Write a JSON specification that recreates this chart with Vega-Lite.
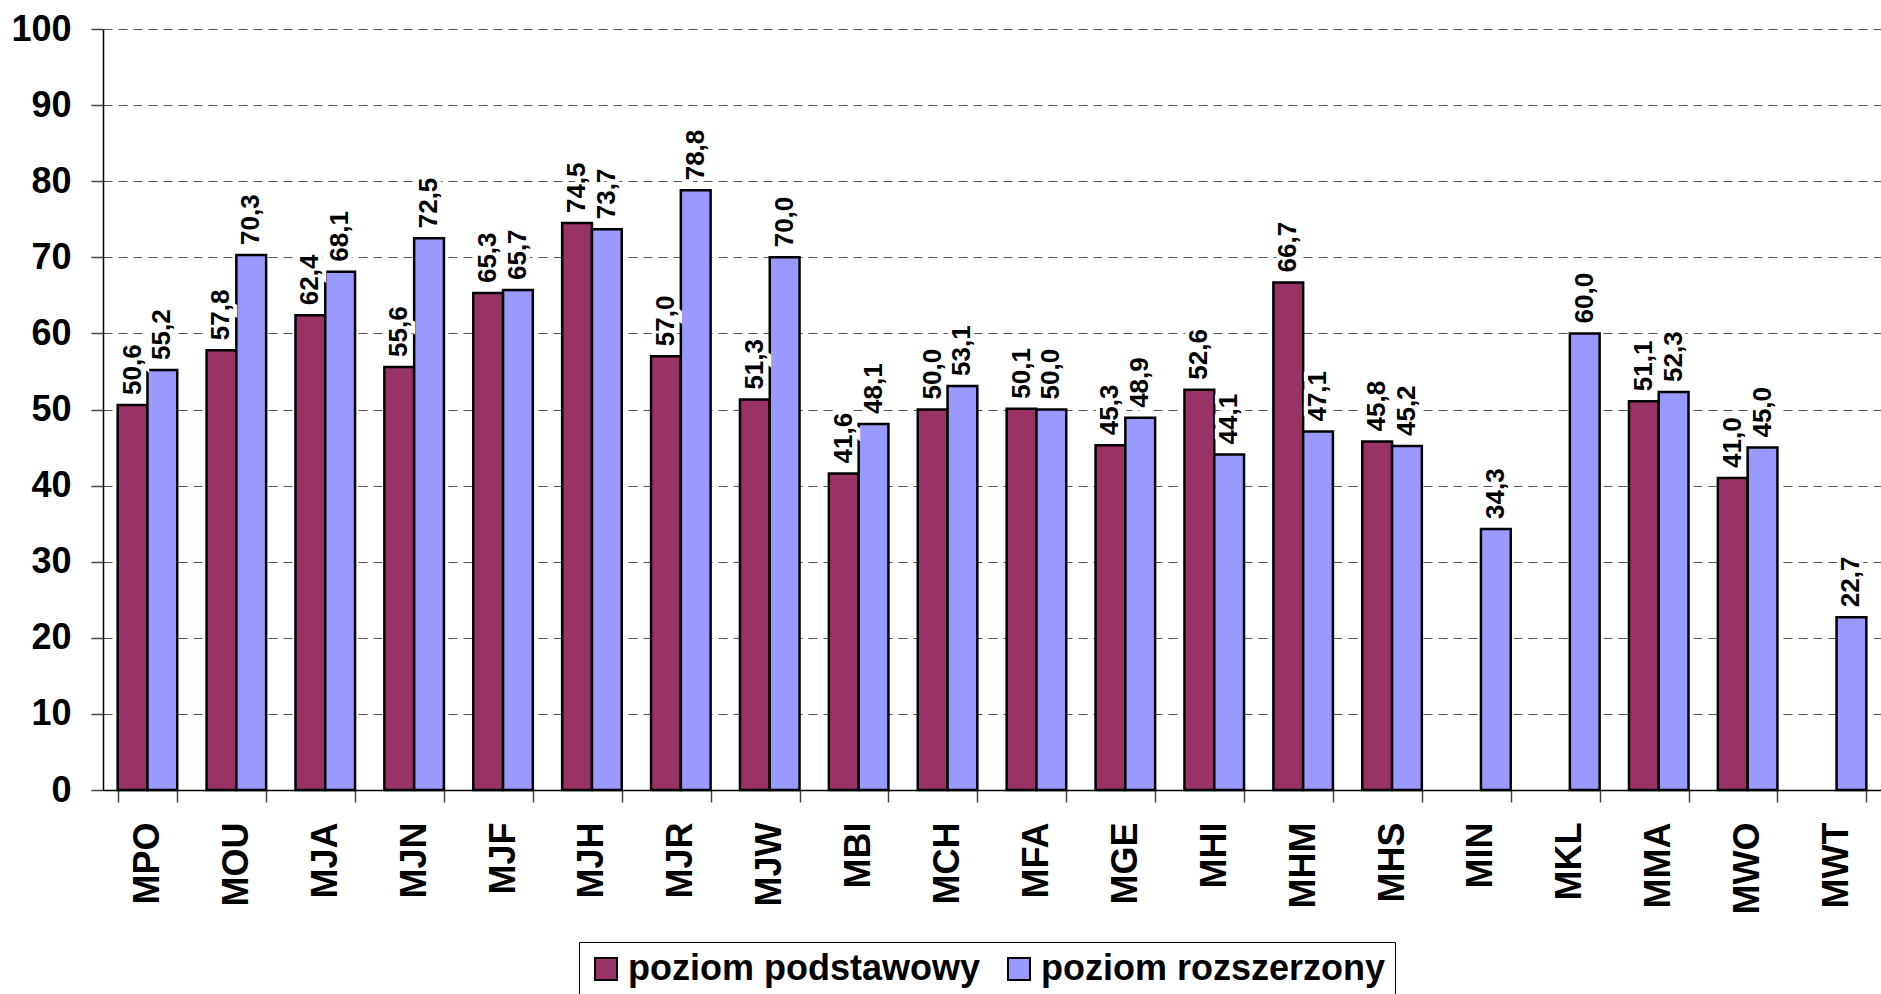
{
  "$schema": "https://vega.github.io/schema/vega-lite/v6.json",
  "width": 1778,
  "height": 761,
  "autosize": {"type": "none"},
  "padding": {"left": 103, "top": 29, "right": 0, "bottom": 204},
  "background": "white",
  "config": {
    "font": "Liberation Sans",
    "view": {"stroke": null},
    "locale": {"number": {"decimal": ",", "thousands": " ", "grouping": [3], "currency": ["", " zł"]}}
  },
  "data": {
    "values": [
      {"szkola": "MPO", "poziom": "poziom podstawowy", "wynik": 50.6},
      {"szkola": "MPO", "poziom": "poziom rozszerzony", "wynik": 55.2},
      {"szkola": "MOU", "poziom": "poziom podstawowy", "wynik": 57.8},
      {"szkola": "MOU", "poziom": "poziom rozszerzony", "wynik": 70.3},
      {"szkola": "MJA", "poziom": "poziom podstawowy", "wynik": 62.4},
      {"szkola": "MJA", "poziom": "poziom rozszerzony", "wynik": 68.1},
      {"szkola": "MJN", "poziom": "poziom podstawowy", "wynik": 55.6},
      {"szkola": "MJN", "poziom": "poziom rozszerzony", "wynik": 72.5},
      {"szkola": "MJF", "poziom": "poziom podstawowy", "wynik": 65.3},
      {"szkola": "MJF", "poziom": "poziom rozszerzony", "wynik": 65.7},
      {"szkola": "MJH", "poziom": "poziom podstawowy", "wynik": 74.5},
      {"szkola": "MJH", "poziom": "poziom rozszerzony", "wynik": 73.7},
      {"szkola": "MJR", "poziom": "poziom podstawowy", "wynik": 57.0},
      {"szkola": "MJR", "poziom": "poziom rozszerzony", "wynik": 78.8},
      {"szkola": "MJW", "poziom": "poziom podstawowy", "wynik": 51.3},
      {"szkola": "MJW", "poziom": "poziom rozszerzony", "wynik": 70.0},
      {"szkola": "MBI", "poziom": "poziom podstawowy", "wynik": 41.6},
      {"szkola": "MBI", "poziom": "poziom rozszerzony", "wynik": 48.1},
      {"szkola": "MCH", "poziom": "poziom podstawowy", "wynik": 50.0},
      {"szkola": "MCH", "poziom": "poziom rozszerzony", "wynik": 53.1},
      {"szkola": "MFA", "poziom": "poziom podstawowy", "wynik": 50.1},
      {"szkola": "MFA", "poziom": "poziom rozszerzony", "wynik": 50.0},
      {"szkola": "MGE", "poziom": "poziom podstawowy", "wynik": 45.3},
      {"szkola": "MGE", "poziom": "poziom rozszerzony", "wynik": 48.9},
      {"szkola": "MHI", "poziom": "poziom podstawowy", "wynik": 52.6},
      {"szkola": "MHI", "poziom": "poziom rozszerzony", "wynik": 44.1},
      {"szkola": "MHM", "poziom": "poziom podstawowy", "wynik": 66.7},
      {"szkola": "MHM", "poziom": "poziom rozszerzony", "wynik": 47.1},
      {"szkola": "MHS", "poziom": "poziom podstawowy", "wynik": 45.8},
      {"szkola": "MHS", "poziom": "poziom rozszerzony", "wynik": 45.2},
      {"szkola": "MIN", "poziom": "poziom rozszerzony", "wynik": 34.3},
      {"szkola": "MKL", "poziom": "poziom rozszerzony", "wynik": 60.0},
      {"szkola": "MMA", "poziom": "poziom podstawowy", "wynik": 51.1},
      {"szkola": "MMA", "poziom": "poziom rozszerzony", "wynik": 52.3},
      {"szkola": "MWO", "poziom": "poziom podstawowy", "wynik": 41.0},
      {"szkola": "MWO", "poziom": "poziom rozszerzony", "wynik": 45.0},
      {"szkola": "MWT", "poziom": "poziom rozszerzony", "wynik": 22.7}
    ]
  },
  "encoding": {
    "x": {
      "field": "szkola",
      "type": "nominal",
      "sort": null,
      "scale": {"paddingInner": 0.33, "paddingOuter": 0.165},
      "axis": {
        "title": null,
        "labelAngle": 270,
        "labelFontSize": 36,
        "labelFontWeight": "bold",
        "labelColor": "black",
        "labelPadding": 20,
        "tickSize": 12,
        "tickColor": "#444",
        "tickWidth": 1.5,
        "tickBand": "extent",
        "domainColor": "black",
        "domainWidth": 1.5,
        "grid": false
      }
    },
    "xOffset": {
      "field": "poziom",
      "type": "nominal",
      "scale": {"domain": ["poziom podstawowy", "poziom rozszerzony"], "paddingInner": 0, "paddingOuter": 0}
    },
    "y": {
      "field": "wynik",
      "type": "quantitative",
      "scale": {"domain": [0, 100], "nice": false},
      "axis": {
        "title": null,
        "values": [0, 10, 20, 30, 40, 50, 60, 70, 80, 90, 100],
        "labelFontSize": 36,
        "labelFontWeight": "bold",
        "labelColor": "black",
        "labelPadding": 20,
        "tickSize": 12,
        "tickColor": "#444",
        "tickWidth": 1.5,
        "domainColor": "black",
        "domainWidth": 1.5,
        "grid": true,
        "gridDash": [9, 6],
        "gridColor": "#555",
        "gridWidth": 1.2
      }
    }
  },
  "layer": [
    {
      "mark": {"type": "bar", "stroke": "black", "strokeWidth": 2.5},
      "encoding": {
        "color": {
          "field": "poziom",
          "type": "nominal",
          "scale": {"domain": ["poziom podstawowy", "poziom rozszerzony"], "range": ["#993366", "#9999FF"]},
          "legend": {
            "title": null,
            "orient": "none",
            "legendX": 476,
            "legendY": 913,
            "direction": "horizontal",
            "labelFontSize": 36,
            "labelFontWeight": "bold",
            "labelColor": "black",
            "symbolType": "square",
            "symbolSize": 484,
            "symbolStrokeColor": "black",
            "symbolStrokeWidth": 2,
            "symbolOpacity": 1,
            "strokeColor": "black",
            "fillColor": "white",
            "padding": 9,
            "columnPadding": 20,
            "labelOffset": 4,
            "labelLimit": 500
          }
        }
      }
    },
    {
      "mark": {"type": "text", "angle": 270, "align": "left", "baseline": "middle", "dx": 10, "fontSize": 26, "fontWeight": "bold", "fill": "white", "stroke": "white", "strokeWidth": 8, "strokeJoin": "miter"},
      "encoding": {"text": {"field": "wynik", "type": "quantitative", "format": ".1f"}}
    },
    {
      "mark": {"type": "text", "angle": 270, "align": "left", "baseline": "middle", "dx": 10, "fontSize": 26, "fontWeight": "bold", "fill": "black"},
      "encoding": {"text": {"field": "wynik", "type": "quantitative", "format": ".1f"}}
    }
  ]
}
